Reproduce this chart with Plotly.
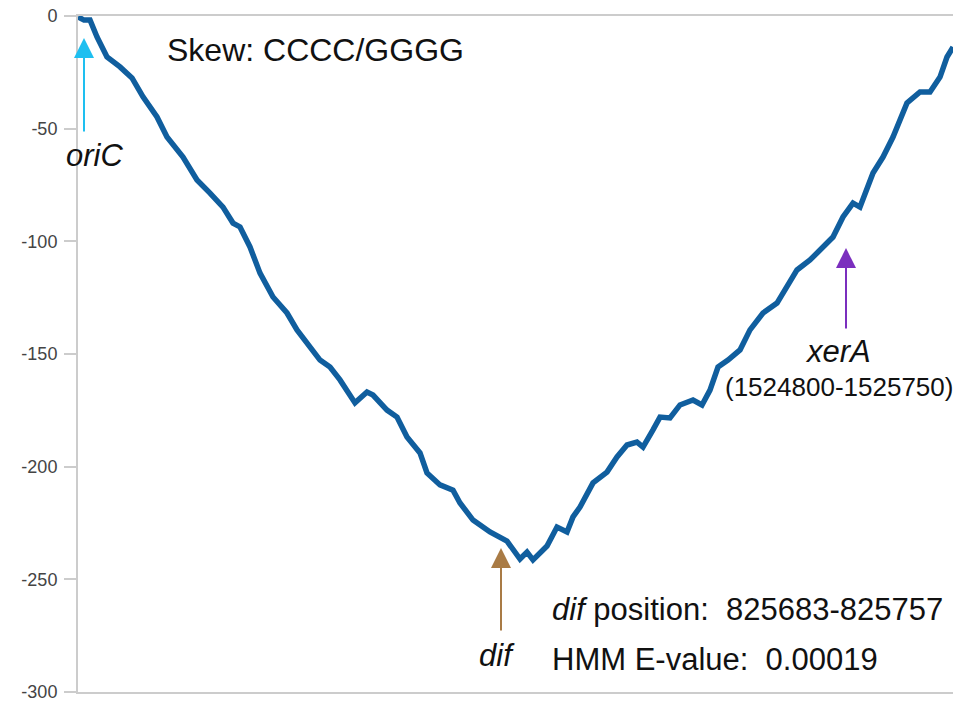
import plotly.graph_objects as go

# Genome position (kb) and cumulative CCCC/GGGG skew
position_kb = [0, 12, 24, 38, 58, 84, 108, 130, 158, 178, 210, 238, 264, 290, 310, 324,
               344, 364, 390, 418, 438, 464, 484, 504, 524, 554, 578, 590, 618, 638, 658,
               684, 698, 724, 750, 764, 790, 824, 858, 884, 898, 910, 938, 958, 978, 990,
               1004, 1030, 1058, 1078, 1098, 1118, 1130, 1150, 1164, 1184, 1204, 1230,
               1248, 1264, 1280, 1300, 1324, 1344, 1370, 1398, 1418, 1438, 1464, 1484,
               1510, 1530, 1550, 1564, 1590, 1610, 1630, 1658, 1684, 1704, 1724, 1738, 1750]
skew = [-0.4, -1.8, -1.8, -9.3, -18.2, -22.6, -27.5, -35.9, -44.8, -53.7, -62.6, -72.8,
        -78.6, -84.8, -91.9, -93.6, -102.5, -114.1, -124.7, -131.8, -139.3, -146.9,
        -152.7, -155.8, -161.5, -171.7, -166.9, -168.2, -174.9, -178.0, -186.8, -193.9,
        -202.8, -208.1, -210.4, -216.1, -223.7, -229.0, -233.0, -241.0, -237.9, -241.4,
        -235.2, -226.8, -229.0, -222.3, -217.9, -207.2, -202.4, -195.7, -190.4, -189.1,
        -191.3, -183.7, -178.0, -178.4, -172.6, -170.4, -172.6, -166.0, -155.8, -152.7,
        -148.2, -139.3, -131.8, -127.4, -120.3, -112.7, -108.3, -103.8, -98.1, -89.2,
        -83.0, -84.8, -69.7, -62.6, -53.7, -38.6, -33.7, -33.7, -27.1, -18.2, -13.8]

y_tickvals = [0, -50, -100, -150, -200, -250, -300]
y_ticktext = ["0", "-50", "-100", "-150", "-200", "-250", "-300"]

# Marker annotations: x position kb, y tip
ori_x, ori_y = 12, -9.8
dif_x, dif_y = 846, -236.1
xer_x, xer_y = 1536, -103.0

fig = go.Figure()
fig.add_trace(go.Scatter(
    x=position_kb, y=skew, mode="lines",
    line=dict(color="#105e9e", width=5.5),
    cliponaxis=False, hoverinfo="skip", showlegend=False))

big = dict(family="Liberation Sans, Arial, sans-serif", size=31, color="#111111")

anns = [
    # arrows
    dict(x=ori_x, y=ori_y, ax=0, ay=95, text="", showarrow=True, arrowhead=2,
         arrowsize=2, arrowwidth=2, arrowcolor="#1ebff0"),
    dict(x=dif_x, y=dif_y, ax=0, ay=84, text="", showarrow=True, arrowhead=2,
         arrowsize=2, arrowwidth=2, arrowcolor="#a97b45"),
    dict(x=xer_x, y=xer_y, ax=0, ay=82, text="", showarrow=True, arrowhead=2,
         arrowsize=2, arrowwidth=2, arrowcolor="#7b2fbe"),
    # texts
    dict(x=174, y=-15.1, text="Skew: CCCC/GGGG", showarrow=False, xanchor="left",
         yanchor="middle", font=dict(big, size=32)),
    dict(x=33, y=-61.7, text="<i>oriC</i>", showarrow=False, xanchor="center",
         yanchor="middle", font=big),
    dict(x=1520, y=-149.1, text="<i>xerA</i>", showarrow=False, xanchor="center",
         yanchor="middle", font=big),
    dict(x=1522, y=-164.6, text="(1524800-1525750)", showarrow=False, xanchor="center",
         yanchor="middle", font=dict(big, size=26)),
    dict(x=838, y=-283.6, text="<i>dif</i>", showarrow=False, xanchor="center",
         yanchor="middle", font=big),
    dict(x=944, y=-263.2, text="<i>dif</i> position:\u00a0\u00a0825683-825757", showarrow=False,
         xanchor="left", yanchor="middle", font=big),
    dict(x=944, y=-285.4, text="HMM E-value:\u00a0\u00a00.00019", showarrow=False,
         xanchor="left", yanchor="middle", font=big),
]

fig.update_layout(
    width=953, height=701,
    margin=dict(l=78, r=0, t=16, b=9, autoexpand=False),
    paper_bgcolor="white", plot_bgcolor="white",
    annotations=anns,
    xaxis=dict(range=[0, 1750], showgrid=False, zeroline=False, showticklabels=False,
               ticks="", showline=True, mirror=True, linecolor="#cccccc", linewidth=2),
    yaxis=dict(range=[-300, 0], showgrid=False, zeroline=False,
               tickvals=y_tickvals, ticktext=y_ticktext,
               ticks="outside", ticklen=12, tickcolor="#cccccc", tickwidth=2,
               ticklabelstandoff=3, ticklabeloverflow="allow",
               tickfont=dict(family="Liberation Sans, Arial, sans-serif", size=18, color="#444444"),
               showline=True, linecolor="#cccccc", linewidth=2),
)

# remove the default 8px body margin so the figure fills the 953x701 window exactly
fig.write_html("out.html", config={"displayModeBar": False},
               post_script="document.body.style.margin='0';document.body.style.overflow='hidden';")
